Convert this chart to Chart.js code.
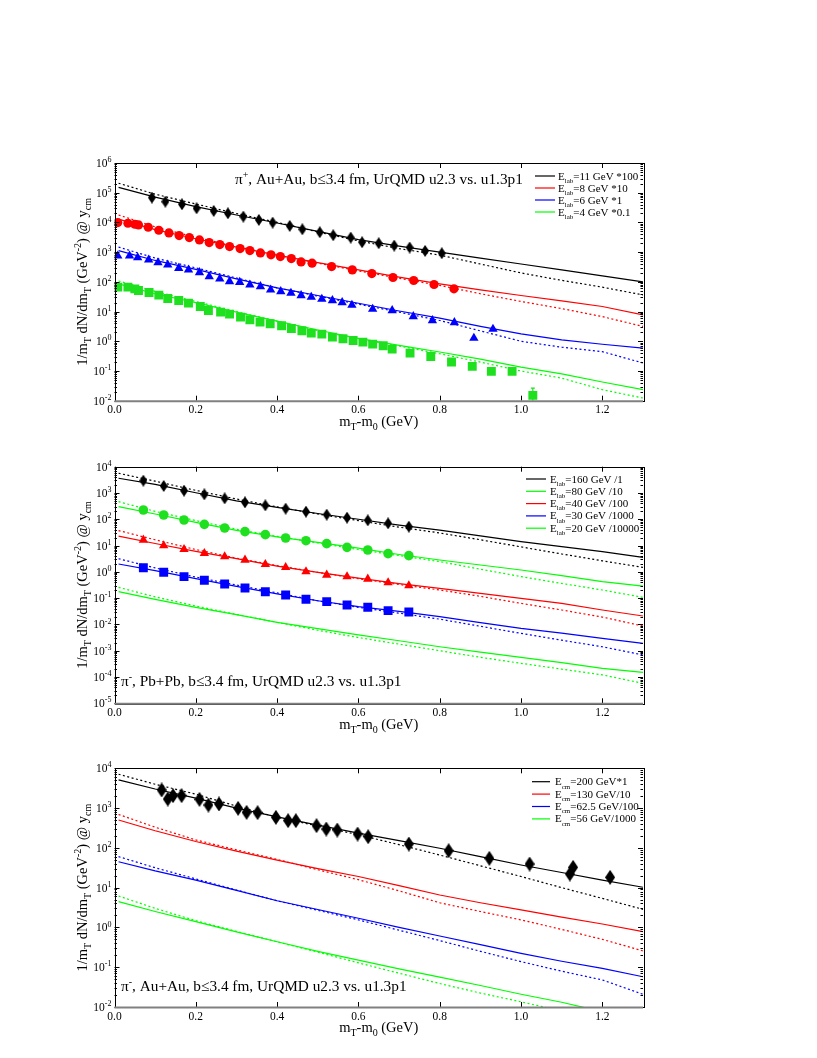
<!DOCTYPE html>
<html>
<head>
<meta charset="utf-8">
<script src="https://cdn.jsdelivr.net/npm/chart.js@4.4.1/dist/chart.umd.min.js"></script>
<style>
  html, body { margin: 0; padding: 0; background: #fff; }
  body { width: 817px; height: 1058px; position: relative; overflow: hidden; }
  canvas { position: absolute; left: 0; }
</style>
</head>
<body>
<canvas id="c1" width="817" height="300" style="top:140px"></canvas>
<canvas id="c2" width="817" height="300" style="top:445px"></canvas>
<canvas id="c3" width="817" height="300" style="top:745px"></canvas>
<script>
// all y values are log10 of 1/mT dN/dmT

const curveX = [0.01, 0.1, 0.2, 0.3, 0.4, 0.5, 0.6, 0.7, 0.8, 0.9, 1.0, 1.1, 1.2, 1.3];
const xTicks = [0.0, 0.2, 0.4, 0.6, 0.8, 1.0, 1.2];
const xTickLabels = ['0.0', '0.2', '0.4', '0.6', '0.8', '1.0', '1.2'];

// ---- panel 1: pi+, Au+Au (AGS) ----
const p1Exps = [-2, -1, 0, 1, 2, 3, 4, 5, 6];
const p1E11Solid = [5.18, 4.85, 4.53, 4.25, 3.98, 3.70, 3.42, 3.20, 3.00, 2.80, 2.60, 2.40, 2.20, 2.00];
const p1E11Dotted = [5.32, 4.95, 4.62, 4.30, 4.00, 3.68, 3.38, 3.12, 2.90, 2.60, 2.30, 2.05, 1.82, 1.56];
const p1E8Solid = [4.11, 3.76, 3.45, 3.17, 2.90, 2.65, 2.40, 2.16, 1.93, 1.73, 1.54, 1.36, 1.17, 0.89];
const p1E8Dotted = [4.25, 3.85, 3.50, 3.19, 2.90, 2.63, 2.37, 2.12, 1.88, 1.60, 1.34, 1.10, 0.83, 0.50];
const p1E6Solid = [3.05, 2.72, 2.42, 2.10, 1.80, 1.54, 1.28, 1.02, 0.78, 0.50, 0.25, 0.05, -0.10, -0.23];
const p1E6Dotted = [3.17, 2.80, 2.47, 2.13, 1.80, 1.52, 1.25, 0.98, 0.70, 0.35, 0.00, -0.20, -0.35, -0.73];
const p1E4Solid = [1.93, 1.60, 1.30, 0.98, 0.68, 0.38, 0.10, -0.14, -0.36, -0.60, -0.87, -1.10, -1.37, -1.63];
const p1E4Dotted = [2.03, 1.68, 1.34, 1.00, 0.68, 0.36, 0.08, -0.16, -0.42, -0.70, -1.00, -1.24, -1.63, -1.91];

const p1E11DataX = [0.092, 0.125, 0.166, 0.202, 0.244, 0.279, 0.317, 0.355, 0.389, 0.431, 0.462, 0.505, 0.538, 0.581, 0.609, 0.650, 0.688, 0.726, 0.764, 0.805];
const p1E11DataY = [4.835, 4.70, 4.61, 4.476, 4.387, 4.308, 4.196, 4.084, 3.994, 3.882, 3.77, 3.67, 3.569, 3.49, 3.333, 3.30, 3.221, 3.154, 3.042, 2.964];
const p1E8DataX = [0.008, 0.033, 0.050, 0.059, 0.083, 0.109, 0.134, 0.159, 0.184, 0.209, 0.233, 0.259, 0.283, 0.309, 0.333, 0.359, 0.385, 0.408, 0.435, 0.459, 0.486, 0.534, 0.585, 0.633, 0.685, 0.736, 0.786, 0.835];
const p1E8DataY = [3.994, 3.972, 3.938, 3.916, 3.838, 3.737, 3.647, 3.557, 3.49, 3.412, 3.322, 3.255, 3.188, 3.12, 3.053, 2.975, 2.908, 2.852, 2.784, 2.672, 2.628, 2.515, 2.403, 2.28, 2.146, 2.045, 1.91, 1.765];
const p1E6DataX = [0.008, 0.037, 0.057, 0.084, 0.107, 0.131, 0.158, 0.182, 0.209, 0.233, 0.259, 0.283, 0.308, 0.333, 0.359, 0.384, 0.409, 0.434, 0.459, 0.484, 0.510, 0.536, 0.560, 0.584, 0.635, 0.683, 0.735, 0.782, 0.836, 0.884, 0.931];
const p1E6DataY = [2.874, 2.874, 2.818, 2.74, 2.65, 2.571, 2.459, 2.403, 2.314, 2.179, 2.101, 2.011, 1.989, 1.899, 1.843, 1.731, 1.675, 1.619, 1.541, 1.485, 1.417, 1.373, 1.305, 1.216, 1.081, 1.036, 0.835, 0.70, 0.633, 0.106, 0.409];
const p1E4DataX = [0.008, 0.033, 0.050, 0.059, 0.085, 0.109, 0.131, 0.158, 0.182, 0.211, 0.231, 0.261, 0.283, 0.310, 0.333, 0.358, 0.383, 0.411, 0.435, 0.461, 0.484, 0.510, 0.536, 0.562, 0.587, 0.611, 0.635, 0.661, 0.683, 0.727, 0.778, 0.829, 0.880, 0.927, 0.978, 1.029];
const p1E4DataY = [1.821, 1.821, 1.765, 1.709, 1.641, 1.552, 1.44, 1.373, 1.283, 1.171, 1.036, 0.98, 0.913, 0.812, 0.723, 0.644, 0.588, 0.521, 0.431, 0.353, 0.275, 0.241, 0.14, 0.084, 0.028, -0.028, -0.095, -0.151, -0.263, -0.398, -0.51, -0.70, -0.846, -1.014, -1.014, -1.821];
const p1E4ErrX = [1.029];
const p1E4ErrHi = [-1.574];
const p1E4ErrLo = [-2.4];

// ---- panel 2: pi-, Pb+Pb (SPS) ----
const p2Exps = [-5, -4, -3, -2, -1, 0, 1, 2, 3, 4];
const p2E160Solid = [3.56, 3.33, 3.01, 2.70, 2.45, 2.22, 2.00, 1.78, 1.59, 1.37, 1.15, 0.96, 0.77, 0.55];
const p2E160Dotted = [3.75, 3.45, 3.10, 2.77, 2.47, 2.20, 1.95, 1.70, 1.48, 1.22, 0.95, 0.68, 0.42, 0.17];
const p2E80Solid = [2.48, 2.20, 1.88, 1.58, 1.33, 1.12, 0.90, 0.66, 0.45, 0.26, 0.07, -0.14, -0.37, -0.54];
const p2E80Dotted = [2.67, 2.30, 1.95, 1.62, 1.35, 1.10, 0.85, 0.62, 0.39, 0.10, -0.18, -0.44, -0.69, -0.97];
const p2E40Solid = [1.36, 1.08, 0.78, 0.50, 0.22, -0.02, -0.24, -0.45, -0.63, -0.82, -1.01, -1.20, -1.45, -1.68];
const p2E40Dotted = [1.57, 1.22, 0.85, 0.52, 0.24, -0.02, -0.26, -0.48, -0.69, -0.93, -1.20, -1.45, -1.72, -2.06];
const p2E30Solid = [0.30, 0.05, -0.26, -0.55, -0.84, -1.10, -1.32, -1.50, -1.70, -1.93, -2.15, -2.33, -2.53, -2.72];
const p2E30Dotted = [0.50, 0.15, -0.20, -0.50, -0.80, -1.10, -1.35, -1.57, -1.80, -2.07, -2.34, -2.60, -2.85, -3.16];
const p2E20Solid = [-0.75, -1.05, -1.35, -1.63, -1.92, -2.16, -2.40, -2.62, -2.85, -3.05, -3.25, -3.45, -3.67, -3.82];
const p2E20Dotted = [-0.59, -0.95, -1.30, -1.62, -1.92, -2.22, -2.50, -2.75, -3.00, -3.25, -3.48, -3.70, -3.92, -4.24];

const p2DataX = [0.071, 0.121, 0.171, 0.221, 0.271, 0.321, 0.371, 0.421, 0.471, 0.522, 0.572, 0.623, 0.673, 0.724];
const p2E160DataY = [3.469, 3.266, 3.088, 2.949, 2.797, 2.645, 2.531, 2.404, 2.29, 2.175, 2.061, 1.96, 1.846, 1.719];
const p2E80DataY = [2.353, 2.163, 1.973, 1.808, 1.668, 1.529, 1.415, 1.288, 1.186, 1.072, 0.933, 0.832, 0.692, 0.616];
const p2E40DataY = [1.212, 0.996, 0.857, 0.705, 0.578, 0.451, 0.286, 0.172, 0.007, -0.119, -0.183, -0.272, -0.411, -0.525];
const p2E30DataY = [0.159, -0.018, -0.183, -0.322, -0.462, -0.614, -0.754, -0.88, -1.045, -1.134, -1.261, -1.349, -1.476, -1.527];

// ---- panel 3: pi-, Au+Au (RHIC) ----
const p3Exps = [-2, -1, 0, 1, 2, 3, 4];
const p3E200Solid = [3.71, 3.48, 3.25, 3.00, 2.78, 2.57, 2.37, 2.18, 1.99, 1.78, 1.57, 1.38, 1.19, 1.01];
const p3E200Dotted = [3.85, 3.60, 3.35, 3.05, 2.77, 2.55, 2.33, 2.08, 1.82, 1.55, 1.28, 1.00, 0.73, 0.455];
const p3E130Solid = [2.70, 2.43, 2.16, 1.92, 1.69, 1.48, 1.28, 1.05, 0.815, 0.62, 0.44, 0.26, 0.086, -0.107];
const p3E130Dotted = [2.84, 2.52, 2.20, 1.95, 1.71, 1.45, 1.20, 0.92, 0.62, 0.40, 0.19, -0.05, -0.30, -0.59];
const p3E62Solid = [1.65, 1.42, 1.19, 0.93, 0.67, 0.45, 0.23, 0.0, -0.215, -0.43, -0.65, -0.85, -1.03, -1.24];
const p3E62Dotted = [1.78, 1.50, 1.22, 0.94, 0.67, 0.43, 0.19, -0.07, -0.33, -0.60, -0.86, -1.10, -1.32, -1.68];
const p3E56Solid = [0.65, 0.40, 0.145, -0.11, -0.36, -0.60, -0.82, -1.04, -1.25, -1.46, -1.68, -1.88, -2.12, -2.30];
const p3E56Dotted = [0.79, 0.48, 0.17, -0.10, -0.36, -0.62, -0.89, -1.15, -1.41, -1.65, -1.87, -2.10, -2.35, -2.55];

const p3E200DataX = [0.116, 0.131, 0.144, 0.165, 0.209, 0.231, 0.257, 0.304, 0.325, 0.352, 0.397, 0.427, 0.446, 0.497, 0.521, 0.548, 0.598, 0.624, 0.724, 0.822, 0.922, 1.021, 1.120, 1.128, 1.219];
const p3E200DataY = [3.455, 3.228, 3.312, 3.312, 3.22, 3.077, 3.103, 2.994, 2.893, 2.885, 2.767, 2.684, 2.684, 2.558, 2.474, 2.449, 2.348, 2.281, 2.097, 1.929, 1.737, 1.594, 1.343, 1.511, 1.259];

const BLACK = '#000000';
const RED = '#ff0000';
const BLUE = '#0000ff';
const GREEN = '#00ff00';
const GREEN_MARK = '#1fe01f';
const FONT = '"Liberation Serif", "DejaVu Serif", serif';

function pts(xs, logs) {
  return xs.map((x, i) => ({ x, y: Math.pow(10, logs[i]) }));
}

function curve(logs, color, dotted) {
  return {
    data: pts(curveX, logs),
    showLine: true,
    borderColor: color,
    borderWidth: 1.2,
    borderDash: dotted ? [2, 2.5] : [],
    pointRadius: 0,
    tension: 0,
    order: 2,
  };
}

function marks(xs, ys, color, style, radius) {
  return {
    data: pts(xs, ys),
    showLine: false,
    pointStyle: style,
    pointRadius: radius,
    backgroundColor: color,
    borderColor: color,
    borderWidth: 0,
    order: 1,
  };
}

function diamond(w, h) {
  const c = document.createElement('canvas');
  c.width = w;
  c.height = h;
  const g = c.getContext('2d');
  g.fillStyle = BLACK;
  g.beginPath();
  g.moveTo(w / 2, 0);
  g.lineTo(w, h / 2);
  g.lineTo(w / 2, h);
  g.lineTo(0, h / 2);
  g.closePath();
  g.fill();
  return c;
}

// parts: [text, mode]  mode 0 normal, 1 subscript, 2 superscript
function drawRich(ctx, parts, x, y, size, align) {
  const small = Math.round(size * 0.68);
  const widths = parts.map(([t, m]) => {
    ctx.font = `${m ? small : size}px ${FONT}`;
    return ctx.measureText(t).width;
  });
  const total = widths.reduce((a, b) => a + b, 0);
  let cx = x;
  if (align === 'right') cx = x - total;
  if (align === 'center') cx = x - total / 2;
  ctx.textAlign = 'left';
  ctx.textBaseline = 'alphabetic';
  parts.forEach(([t, m], i) => {
    ctx.font = `${m ? small : size}px ${FONT}`;
    let dy = 0;
    if (m === 1) dy = size * 0.3;
    if (m === 2) dy = -size * 0.42;
    ctx.fillText(t, cx, y + dy);
    cx += widths[i];
  });
}

const yTitle = [['1/m', 0], ['T', 1], [' dN/dm', 0], ['T', 1], [' (GeV', 0], ['-2', 2], [') @ y', 0], ['cm', 1]];
const xTitle = [['m', 0], ['T', 1], ['-m', 0], ['0', 1], [' (GeV)', 0]];

const paperAxes = {
  id: 'paperAxes',
  afterDraw(chart) {
    const o = chart.options.plugins.paperAxes;
    const { ctx, chartArea: a } = chart;
    const xs = chart.scales.x;
    const ys = chart.scales.y;
    ctx.save();

    // error bars
    ctx.save();
    ctx.beginPath();
    ctx.rect(a.left, a.top, a.right - a.left, a.bottom - a.top);
    ctx.clip();
    (o.errors || []).forEach((e) => {
      ctx.strokeStyle = e.color;
      ctx.lineWidth = 1.2;
      e.x.forEach((xv, i) => {
        const px = xs.getPixelForValue(xv);
        const hi = ys.getPixelForValue(Math.pow(10, e.hi[i]));
        const lo = ys.getPixelForValue(Math.pow(10, e.lo[i]));
        ctx.beginPath();
        ctx.moveTo(px, hi);
        ctx.lineTo(px, lo);
        ctx.moveTo(px - 2, hi);
        ctx.lineTo(px + 2, hi);
        ctx.stroke();
      });
    });
    ctx.restore();

    // ticks
    ctx.strokeStyle = BLACK;
    ctx.lineWidth = 1;
    ctx.beginPath();
    xTicks.forEach((v) => {
      const px = Math.round(xs.getPixelForValue(v)) + 0.5;
      ctx.moveTo(px, a.bottom);
      ctx.lineTo(px, a.bottom - 5);
      ctx.moveTo(px, a.top);
      ctx.lineTo(px, a.top + 5);
    });
    o.exps.forEach((ex, i) => {
      for (let k = 1; k <= 9; k += 1) {
        if (k > 1 && i === o.exps.length - 1) break;
        const py = Math.round(ys.getPixelForValue(k * Math.pow(10, ex))) + 0.5;
        const len = k === 1 ? 5 : 2.5;
        ctx.moveTo(a.left, py);
        ctx.lineTo(a.left + len, py);
        ctx.moveTo(a.right, py);
        ctx.lineTo(a.right - len, py);
      }
    });
    ctx.stroke();

    // frame
    ctx.strokeRect(Math.round(a.left) + 0.5, Math.round(a.top) + 0.5, Math.round(a.right - a.left), Math.round(a.bottom - a.top));
    ctx.strokeStyle = '#808080';
    ctx.lineWidth = 2;
    ctx.beginPath();
    ctx.moveTo(a.left, a.bottom + 0.5);
    ctx.lineTo(a.right, a.bottom + 0.5);
    ctx.stroke();

    // tick labels
    ctx.fillStyle = BLACK;
    xTicks.forEach((v, i) => {
      ctx.font = `11.5px ${FONT}`;
      ctx.textAlign = 'center';
      ctx.textBaseline = 'alphabetic';
      ctx.fillText(xTickLabels[i], xs.getPixelForValue(v), a.bottom + 12.5);
    });
    o.exps.forEach((ex) => {
      const py = ys.getPixelForValue(Math.pow(10, ex));
      drawRich(ctx, [['10', 0], [String(ex), 2]], a.left - 3, py + 4, 11.5, 'right');
    });

    // axis titles
    drawRich(ctx, xTitle, (a.left + a.right) / 2, o.xTitleY, 14.5, 'center');
    ctx.save();
    ctx.translate(82, (a.top + a.bottom) / 2);
    ctx.rotate(-Math.PI / 2);
    drawRich(ctx, yTitle, 0, 5, 14.5, 'center');
    ctx.restore();

    // annotation
    drawRich(ctx, o.note.parts, o.note.x, o.note.y, 15.3, 'left');

    // legend
    const lg = o.legend;
    lg.items.forEach((it, i) => {
      const ly = lg.y + i * lg.step;
      ctx.strokeStyle = it.color;
      ctx.lineWidth = 1.2;
      ctx.setLineDash([]);
      ctx.beginPath();
      ctx.moveTo(lg.x1, ly);
      ctx.lineTo(lg.x2, ly);
      ctx.stroke();
      ctx.fillStyle = BLACK;
      drawRich(ctx, [['E', 0], [lg.sub, 1], [it.text, 0]], lg.tx, ly + 3.5, 11, 'left');
    });
    ctx.restore();
  },
};

function makeChart(id, datasets, minExp, maxExp, padding, deco) {
  return new Chart(document.getElementById(id), {
    type: 'scatter',
    data: { datasets },
    options: {
      responsive: false,
      animation: false,
      events: [],
      layout: { padding },
      scales: {
        x: { type: 'linear', min: 0, max: 1.3, display: false },
        y: { type: 'logarithmic', min: Math.pow(10, minExp), max: Math.pow(10, maxExp), display: false },
      },
      plugins: {
        legend: { display: false },
        tooltip: { enabled: false },
        paperAxes: deco,
      },
    },
    plugins: [paperAxes],
  });
}

const diamondSmall = diamond(8, 12);
const diamondBig = diamond(10, 15);

makeChart('c1', [
  marks(p1E11DataX, p1E11DataY, BLACK, diamondSmall, 5),
  marks(p1E8DataX, p1E8DataY, RED, 'circle', 4.6),
  marks(p1E6DataX, p1E6DataY, BLUE, 'triangle', 5.4),
  marks(p1E4DataX, p1E4DataY, GREEN_MARK, 'rect', 6.3),
  curve(p1E11Solid, BLACK, false), curve(p1E11Dotted, BLACK, true),
  curve(p1E8Solid, RED, false), curve(p1E8Dotted, RED, true),
  curve(p1E6Solid, BLUE, false), curve(p1E6Dotted, BLUE, true),
  curve(p1E4Solid, GREEN, false), curve(p1E4Dotted, GREEN, true),
], -2, 6, { left: 114.5, right: 174, top: 23, bottom: 39.3 }, {
  exps: p1Exps,
  xTitleY: 286,
  errors: [{ x: p1E4ErrX, hi: p1E4ErrHi, lo: p1E4ErrLo, color: GREEN_MARK }],
  note: { x: 235, y: 44, parts: [['\u03c0', 0], ['+', 2], [', Au+Au, b\u22643.4 fm, UrQMD u2.3 vs. u1.3p1', 0]] },
  legend: {
    x1: 535, x2: 555, tx: 558, y: 36, step: 12, sub: 'lab',
    items: [
      { color: BLACK, text: '=11 GeV *100' },
      { color: RED, text: '=8 GeV *10' },
      { color: BLUE, text: '=6 GeV *1' },
      { color: GREEN, text: '=4 GeV *0.1' },
    ],
  },
});

makeChart('c2', [
  marks(p2DataX, p2E160DataY, BLACK, diamondSmall, 5),
  marks(p2DataX, p2E80DataY, GREEN_MARK, 'circle', 4.8),
  marks(p2DataX, p2E40DataY, RED, 'triangle', 5.4),
  marks(p2DataX, p2E30DataY, BLUE, 'rect', 6.3),
  curve(p2E160Solid, BLACK, false), curve(p2E160Dotted, BLACK, true),
  curve(p2E80Solid, GREEN, false), curve(p2E80Dotted, GREEN, true),
  curve(p2E40Solid, RED, false), curve(p2E40Dotted, RED, true),
  curve(p2E30Solid, BLUE, false), curve(p2E30Dotted, BLUE, true),
  curve(p2E20Solid, GREEN, false), curve(p2E20Dotted, GREEN, true),
], -5, 4, { left: 114.5, right: 174, top: 21.7, bottom: 41.7 }, {
  exps: p2Exps,
  xTitleY: 284,
  note: { x: 121, y: 241, parts: [['\u03c0', 0], ['-', 2], [', Pb+Pb, b\u22643.4 fm, UrQMD u2.3 vs. u1.3p1', 0]] },
  legend: {
    x1: 526, x2: 546, tx: 550, y: 34, step: 12.3, sub: 'lab',
    items: [
      { color: BLACK, text: '=160 GeV /1' },
      { color: GREEN, text: '=80 GeV /10' },
      { color: RED, text: '=40 GeV /100' },
      { color: BLUE, text: '=30 GeV /1000' },
      { color: GREEN, text: '=20 GeV /10000' },
    ],
  },
});

makeChart('c3', [
  marks(p3E200DataX, p3E200DataY, BLACK, diamondBig, 5),
  curve(p3E200Solid, BLACK, false), curve(p3E200Dotted, BLACK, true),
  curve(p3E130Solid, RED, false), curve(p3E130Dotted, RED, true),
  curve(p3E62Solid, BLUE, false), curve(p3E62Dotted, BLUE, true),
  curve(p3E56Solid, GREEN, false), curve(p3E56Dotted, GREEN, true),
], -2, 4, { left: 114.5, right: 174, top: 23.3, bottom: 38 }, {
  exps: p3Exps,
  xTitleY: 287,
  note: { x: 121, y: 246, parts: [['\u03c0', 0], ['-', 2], [', Au+Au, b\u22643.4 fm, UrQMD u2.3 vs. u1.3p1', 0]] },
  legend: {
    x1: 532, x2: 550, tx: 555, y: 36.7, step: 12.4, sub: 'cm',
    items: [
      { color: BLACK, text: '=200 GeV*1' },
      { color: RED, text: '=130 GeV/10' },
      { color: BLUE, text: '=62.5 GeV/100' },
      { color: GREEN, text: '=56 GeV/1000' },
    ],
  },
});
</script>
</body>
</html>
